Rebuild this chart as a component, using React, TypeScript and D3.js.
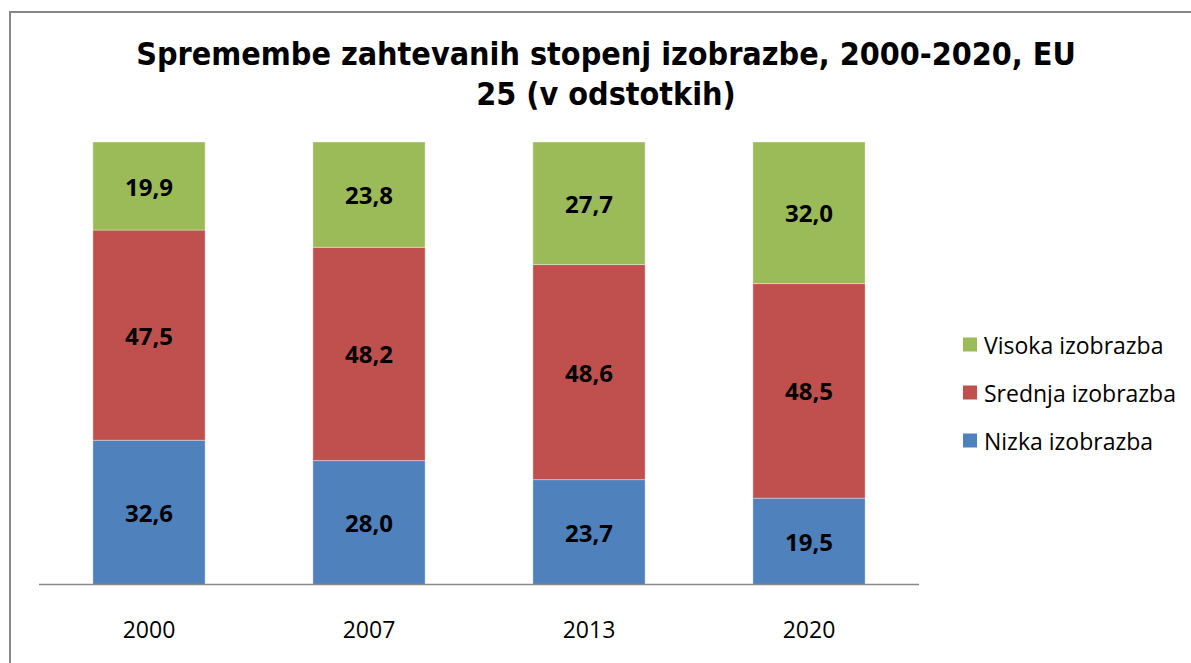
import * as d3 from 'd3'

const years = ['2000', '2007', '2013', '2020']
const nizka = [32.6, 28.0, 23.7, 19.5]
const srednja = [47.5, 48.2, 48.6, 48.5]
const visoka = [19.9, 23.8, 27.7, 32.0]

const seriesNames = ['Nizka izobrazba', 'Srednja izobrazba', 'Visoka izobrazba']
const seriesColors = ['#4F81BD', '#C0504D', '#9BBB59']

const titleLines = ['Spremembe zahtevanih stopenj izobrazbe, 2000-2020, EU', '25 (v odstotkih)']

const W = 1191
const H = 663
const plot = { left: 39, right: 919, top: 142, bottom: 584.5 }
const labelFont = '"Open Sans", "Noto Sans", sans-serif'

export default function App() {
  const rows = years.map((y, i) => ({
    year: y,
    nizka: nizka[i],
    srednja: srednja[i],
    visoka: visoka[i],
  }))
  const keys = ['nizka', 'srednja', 'visoka'] as const
  const stacked = d3.stack<any>().keys(keys as any)(rows)

  const x = d3
    .scaleBand<string>()
    .domain(years)
    .range([plot.left, plot.right])
    .paddingInner(0.49)
    .paddingOuter(0.245)
  const y = d3.scaleLinear([0, 100], [plot.bottom, plot.top])

  return (
    <svg
      width={W}
      height={H}
      style={{ position: 'absolute', left: 0, top: 0, background: '#fff' }}
    >
      <rect x={10} y={12} width={1300} height={800} fill="#fff" stroke="#868686" strokeWidth={2} />
      {titleLines.map((t, i) => (
        <text
          key={i}
          x={606}
          y={65 + i * 40}
          textAnchor="middle"
          fontFamily='"DejaVu Sans Condensed", "DejaVu Sans", sans-serif'
          fontWeight="bold"
          fontSize={32}
          fill="#000"
        >
          {t}
        </text>
      ))}
      {stacked.map((s, si) => (
        <g key={si} fill={seriesColors[si]}>
          {s.map((d, i) => {
            const x0 = x(years[i])!
            const top = y(d[1])
            const bot = y(d[0])
            return (
              <g key={i}>
                <rect
                  x={x0}
                  y={top}
                  width={x.bandwidth()}
                  height={bot - top}
                  stroke="#ffffff"
                  strokeOpacity={0.35}
                  strokeWidth={1}
                />
                <text
                  x={x0 + x.bandwidth() / 2}
                  y={(top + bot) / 2}
                  textAnchor="middle"
                  dominantBaseline="central"
                  fontFamily={labelFont}
                  fontWeight="bold"
                  fontSize={24}
                  fill="#000"
                >
                  {d3.format('.1f')(d[1] - d[0]).replace('.', ',')}
                </text>
              </g>
            )
          })}
        </g>
      ))}
      <line
        x1={plot.left}
        x2={plot.right}
        y1={plot.bottom}
        y2={plot.bottom}
        stroke="#898989"
        strokeWidth={1.5}
      />
      {years.map((yr) => (
        <text
          key={yr}
          x={x(yr)! + x.bandwidth() / 2}
          y={638}
          textAnchor="middle"
          fontFamily={labelFont}
          fontSize={23}
          fill="#000"
        >
          {yr}
        </text>
      ))}
      {[2, 1, 0].map((si, k) => (
        <g key={si} transform={`translate(963, ${344.5 + k * 48})`}>
          <rect x={0} y={-7} width={14} height={14} fill={seriesColors[si]} />
          <text
            x={21}
            y={0}
            dominantBaseline="central"
            fontFamily={labelFont}
            fontSize={23}
            fill="#000"
          >
            {seriesNames[si]}
          </text>
        </g>
      ))}
    </svg>
  )
}
